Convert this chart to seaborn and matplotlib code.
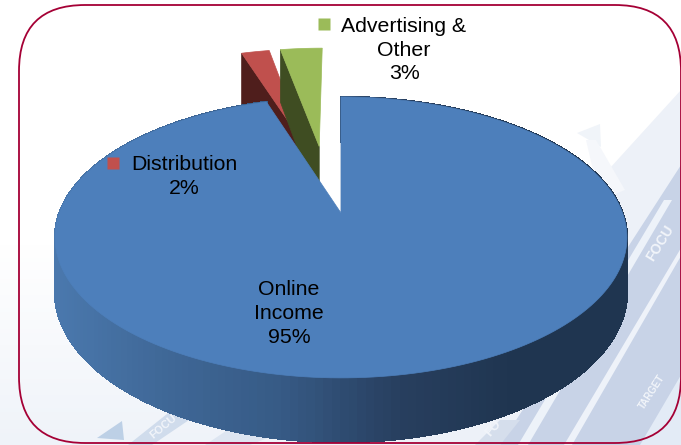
import matplotlib
matplotlib.use('Agg')
import matplotlib.pyplot as plt
import numpy as np
import seaborn as sns
from matplotlib.collections import PolyCollection
from matplotlib.colors import to_rgb
from matplotlib.patches import FancyBboxPatch, Polygon

# chart data
labels = ['Online\nIncome', 'Distribution', 'Advertising &\nOther']
shares = [95, 2, 3]

# look of the slices
top_colors = ['#4d7fbb', '#c0504d', '#9bbb59']
cut_colors = ['#1f3550', '#4f1e1c', '#3f4d22']

sns.set_theme(style='white')
plt.rcParams['font.family'] = ['Liberation Sans', 'DejaVu Sans']

# fake the perspective of the old 3D pie: (u, v) on the unit disc to pixels
CX, CY = 341, 213
A, B, K = 281.6, 136.2, 0.174
DEPTH = 53


def project(u, v, down=0.0):
    d = 1 + K * v
    return CX + A * u / d, CY - B * v / d + down * DEPTH / d


def slice_rim(t0, t1, pull_dir, pull):
    """ Rim of a slice in disc coordinates, plus the pulled out apex. """
    t = np.radians(np.linspace(t0, t1, 240))
    ou, ov = pull * np.sin(np.radians(pull_dir)), pull * np.cos(np.radians(pull_dir))
    return np.sin(t) + ou, np.cos(t) + ov, ou, ov


def background(ax):
    h, w = 445, 681
    yy, xx = np.mgrid[0:h, 0:w]
    s = np.clip((yy / h - 0.55) / 0.45, 0, 1)[..., None]
    img = (1 - s) * np.array(to_rgb('#ffffff')) + s * np.array(to_rgb('#eff3f9'))
    ax.imshow(img, extent=(0, w, h, 0), aspect='auto', zorder=0)

    bands = [
        ([(395, 445), (590, 190), (681, 90), (681, 445)], '#edf1f8'),
        ([(500, 445), (681, 165), (681, 445)], '#c8d3e7'),
        ([(640, 445), (681, 375), (681, 445)], '#e3ebf6'),
        ([(664, 200), (672, 200), (528, 445), (518, 445)], '#edf2f9'),
        ([(681, 248), (681, 256), (572, 445), (564, 445)], '#eef2f9'),
        ([(577, 133), (600, 124), (601, 147)], '#f0f4f9'),
        ([(586, 140), (596, 140), (625, 190), (600, 200)], '#f5f7fb'),
        ([(128, 445), (172, 410), (192, 418), (152, 445)], '#d0dcec'),
        ([(97, 438), (122, 421), (124, 440)], '#bdd0e6'),
        ([(205, 445), (235, 425), (275, 435), (250, 445)], '#dde5f1'),
        ([(475, 445), (500, 420), (520, 420), (500, 445)], '#d5deec'),
    ]
    for pts, c in bands:
        ax.add_patch(Polygon(pts, closed=True, fc=c, ec='none', zorder=0.5))

    for x, y, s_, rot, size in [(660, 243, 'FOCU', 58, 10), (493, 428, 'FO', 50, 9),
                                (652, 392, 'TARGET', 57, 7), (163, 427, 'FOCU', 40, 8)]:
        ax.text(x, y, s_, rotation=rot, fontsize=size, color='#f2f5fa', fontweight='bold',
                ha='center', va='center', zorder=0.6)


fig, ax = plt.subplots(figsize=(6.81, 4.45), dpi=100)
fig.subplots_adjust(0, 0, 1, 1)
ax.set_xlim(0, 681)
ax.set_ylim(445, 0)
ax.axis('off')
background(ax)

# slice angles go clockwise from twelve o'clock
edges = np.concatenate([[0], np.cumsum(shares)]) / np.sum(shares) * 360
pull_dirs = [0, 345.6, 351]
pulls = [0, 0.54, 0.54]

# the two small slices sit behind the big one, each showing its left cut face
for i in (1, 2):
    u, v, ou, ov = slice_rim(edges[i], edges[i + 1], pull_dirs[i], pulls[i])
    x0, y0 = project(u[0], v[0])
    x1, y1 = project(u[0], v[0], 1.25)
    ax_, ay_ = project(ou, ov)
    bx_, by_ = project(ou, ov, 1.25)
    ax.add_patch(Polygon([(x0, y0), (x1, y1), (bx_, by_), (ax_, ay_)], fc=cut_colors[i],
                         ec=cut_colors[i], lw=0.5, zorder=2 + i))
    tx, ty = project(u, v)
    top = np.column_stack([np.r_[ax_, tx], np.r_[ay_, ty]])
    ax.add_patch(Polygon(top, fc=top_colors[i], ec=top_colors[i], lw=0.5, zorder=2.5 + i))

# big slice: shaded rim first, then the top face over it
u, v, ou, ov = slice_rim(edges[0], edges[1], pull_dirs[0], pulls[0])
tx, ty = project(u, v)
dx, dy = project(u, v, 1)
quads = [[(tx[j], ty[j]), (tx[j + 1], ty[j + 1]), (dx[j + 1], dy[j + 1]), (dx[j], dy[j])]
         for j in range(len(tx) - 1)]
shade = np.array(sns.blend_palette(['#4a78ad', '#3f6796', '#365a85', '#283f5f', '#1f3550', '#1f3550'], 256))
idx = np.clip(((tx[:-1] - 56) / 572 * 255).astype(int), 0, 255)
rim = PolyCollection(quads, facecolors=shade[idx], edgecolors=shade[idx], linewidths=1.0,
                     antialiaseds=False, zorder=6)
ax.add_collection(rim)

# thin cut face of the big slice at twelve o'clock
ax.plot([341, 341], [143, 215], color=cut_colors[0], lw=0.8, zorder=6.5)
ax_, ay_ = project(ou, ov)
top = np.column_stack([np.r_[ax_, tx], np.r_[ay_, ty]])
ax.add_patch(Polygon(top, fc=top_colors[0], ec=top_colors[0], lw=0.5, zorder=7))

# rounded frame, its right side runs right on the picture edge
r = 66
ax.add_patch(FancyBboxPatch((19 + r, 5 + r), 662 - 2 * r, 438 - 2 * r,
                            boxstyle=f'round,pad={r},rounding_size={r}',
                            fc='none', ec='#a50035', lw=1.3, zorder=8))

# data labels with their little legend keys
text_pos = [(289, 313.5), (184, 176.5), (404, 50)]
key_pos = [None, (113, 162.5), (324, 23.5)]
for name, val, c, (x, y), key in zip(labels, shares, top_colors, text_pos, key_pos):
    ax.text(x, y, f'{name}\n{val}%', ha='center', va='center', fontsize=15.3,
            linespacing=1.31, color='black', zorder=9)
    if key is not None:
        ax.plot(*key, marker='s', ms=8.2, mfc=c, mec='none', ls='none', zorder=9)

fig.savefig('out.png', dpi=100)
